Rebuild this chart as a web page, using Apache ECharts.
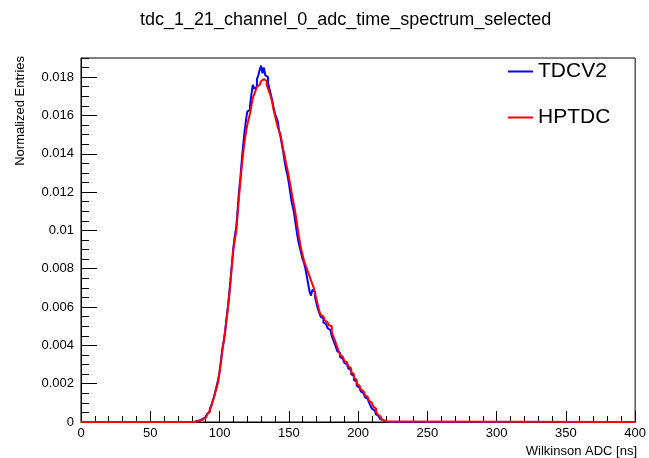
<!DOCTYPE html>
<html>
<head>
<meta charset="utf-8">
<script src="https://cdn.jsdelivr.net/npm/echarts@6/dist/echarts.min.js"></script>
<style>
  html, body { margin: 0; padding: 0; background: #fff; }
  #chart { width: 649px; height: 458px; }
</style>
</head>
<body>
<div id="chart"></div>
<script>
// bin lower edges [ns], 1 ns bins over the non-empty range
const binEdges = [
  80, 81, 82, 83, 84, 85, 86, 87, 88, 89, 90, 91, 92, 93, 94, 95, 96, 97, 98, 99,
  100, 101, 102, 103, 104, 105, 106, 107, 108, 109, 110, 111, 112, 113, 114, 115, 116, 117, 118, 119,
  120, 121, 122, 123, 124, 125, 126, 127, 128, 129, 130, 131, 132, 133, 134, 135, 136, 137, 138, 139,
  140, 141, 142, 143, 144, 145, 146, 147, 148, 149, 150, 151, 152, 153, 154, 155, 156, 157, 158, 159,
  160, 161, 162, 163, 164, 165, 166, 167, 168, 169, 170, 171, 172, 173, 174, 175, 176, 177, 178, 179,
  180, 181, 182, 183, 184, 185, 186, 187, 188, 189, 190, 191, 192, 193, 194, 195, 196, 197, 198, 199,
  200, 201, 202, 203, 204, 205, 206, 207, 208, 209, 210, 211, 212, 213, 214, 215, 216, 217, 218, 219,
  220, 221, 222];

const tdcv2 = [
  0, 0.00001, 0.00003, 0.00005, 0.00007, 0.0001, 0.00013, 0.00016, 0.0002, 0.00026,
  0.00033, 0.00042, 0.00052, 0.00068, 0.00085, 0.00108, 0.0013, 0.0016, 0.0019, 0.0022,
  0.0026, 0.0032, 0.0038, 0.0042, 0.0047, 0.0054, 0.006, 0.0067, 0.0075, 0.0083,
  0.0091, 0.0097, 0.0101, 0.011, 0.012, 0.0127, 0.0136, 0.0144, 0.0151, 0.0157,
  0.0162, 0.0163, 0.0165, 0.0171, 0.0176, 0.0174, 0.0175, 0.0179, 0.0181, 0.0184,
  0.0186, 0.0182, 0.0185, 0.0181, 0.018, 0.0177, 0.0174, 0.0171, 0.0168, 0.0164,
  0.0161, 0.0159, 0.0157, 0.0152, 0.0149, 0.0145, 0.0141, 0.0136, 0.0132, 0.0129,
  0.0125, 0.012, 0.0115, 0.0112, 0.0108, 0.0103, 0.0098, 0.0094, 0.0091, 0.0088,
  0.0085, 0.0083, 0.008, 0.0076, 0.0072, 0.0068, 0.0066, 0.0069, 0.0068, 0.0065,
  0.0062, 0.0059, 0.0057, 0.0055, 0.0054, 0.0052, 0.0051, 0.005, 0.0049, 0.0048,
  0.0047, 0.0045, 0.0043, 0.0041, 0.0039, 0.0037, 0.0036, 0.0034, 0.0033, 0.0032,
  0.0031, 0.003, 0.0029, 0.0028, 0.0027, 0.0025, 0.0024, 0.0022, 0.0021, 0.0019,
  0.0018, 0.0017, 0.0016, 0.0015, 0.0014, 0.0013, 0.0012, 0.0011, 0.001, 0.00085,
  0.0007, 0.0006, 0.0005, 0.0004, 0.0003, 0.0002, 0.00015, 0.0001, 0.00005, 0.00002,
  0, 0, 0];

const hptdc = [
  0, 0, 0.00002, 0.00003, 0.00005, 0.00007, 0.0001, 0.00013, 0.00017, 0.00022,
  0.00028, 0.00037, 0.00048, 0.00062, 0.0008, 0.00104, 0.0013, 0.00155, 0.0018, 0.0021,
  0.0026, 0.0031, 0.0037, 0.0042, 0.0047, 0.0053, 0.0059, 0.0066, 0.0074, 0.0082,
  0.009, 0.0095, 0.0099, 0.0108, 0.0117, 0.0125, 0.0133, 0.014, 0.0146, 0.0151,
  0.0155, 0.0158, 0.0161, 0.0165, 0.0169, 0.0171, 0.0173, 0.0175, 0.0176, 0.0177,
  0.0178, 0.0179, 0.0179, 0.0178, 0.0176, 0.0174, 0.0172, 0.017, 0.0167, 0.0163,
  0.016, 0.0157, 0.0154, 0.0152, 0.015, 0.0146, 0.0142, 0.0139, 0.0135, 0.0132,
  0.0128, 0.0124, 0.012, 0.0116, 0.0112, 0.0108, 0.0103, 0.0098, 0.0094, 0.009,
  0.0087, 0.0084, 0.0082, 0.008, 0.0078, 0.0076, 0.0074, 0.0072, 0.007, 0.0067,
  0.0064, 0.0061, 0.0058, 0.0056, 0.0055, 0.0054, 0.0053, 0.0052, 0.0051, 0.00505,
  0.005, 0.0047, 0.0045, 0.0043, 0.0041, 0.0039, 0.0037, 0.0035, 0.0034, 0.0033,
  0.0032, 0.0031, 0.003, 0.0029, 0.0028, 0.0026, 0.0025, 0.0023, 0.0022, 0.002,
  0.0019, 0.0018, 0.0017, 0.0016, 0.0015, 0.0014, 0.0013, 0.0012, 0.0011, 0.001,
  0.0009, 0.0008, 0.0007, 0.00055, 0.0004, 0.0003, 0.0002, 0.00013, 0.00008, 0.00004,
  0.00002, 0, 0];

const xMin = 0, xMax = 400;
const yMin = 0, yMax = 0.019;

const font = "'Liberation Sans', Arial, Helvetica, sans-serif";

function histPoints(values) {
  // empty range on both sides so the line runs across the whole axis
  const pts = [[xMin, 0]];
  binEdges.forEach((x, i) => pts.push([x, values[i]]));
  pts.push([xMax, 0]);
  return pts;
}

const chart = echarts.init(document.getElementById("chart"));

const option = {
  animation: false,
  title: {
    text: "tdc_1_21_channel_0_adc_time_spectrum_selected",
    left: 135,
    top: 6,
    textStyle: { fontFamily: font, fontSize: 18, fontWeight: "normal", color: "#000" }
  },
  legend: {
    orient: "vertical",
    left: 503,
    top: 56,
    itemWidth: 25,
    itemHeight: 2,
    itemGap: 25,
    icon: "rect",
    textStyle: { fontFamily: font, fontSize: 21, color: "#000" },
    data: ["TDCV2", "HPTDC"]
  },
  grid: {
    left: 81,
    right: 12,
    top: 58,
    bottom: 36,
    show: true,
    borderColor: "#000",
    borderWidth: 1,
    containLabel: false
  },
  xAxis: {
    type: "value",
    min: xMin,
    max: xMax,
    interval: 50,
    axisLine: { onZero: false, lineStyle: { color: "#000", width: 1 } },
    axisTick: { inside: true, length: 11, lineStyle: { color: "#000" } },
    minorTick: { show: true, splitNumber: 5, length: 6, lineStyle: { color: "#000" } },
    splitLine: { show: false },
    axisLabel: { margin: 5, color: "#000", fontFamily: font, fontSize: 13 }
  },
  yAxis: [
    {
      type: "value",
      min: yMin,
      max: yMax,
      interval: 0.002,
      axisLine: { show: true, lineStyle: { color: "#000", width: 1 } },
      axisTick: { inside: true, length: 16, lineStyle: { color: "#000" } },
      splitLine: { show: false },
      axisLabel: {
        margin: 7,
        color: "#000",
        fontFamily: font,
        fontSize: 13,
        showMaxLabel: false,
        formatter: v => String(parseFloat(v.toFixed(4)))
      }
    },
    {
      // minor ticks every 0.0005
      type: "value",
      position: "left",
      min: yMin,
      max: yMax,
      interval: 0.0005,
      axisLine: { show: false },
      axisTick: { inside: true, length: 8, lineStyle: { color: "#000" } },
      axisLabel: { show: false },
      splitLine: { show: false }
    }
  ],
  graphic: [
    {
      type: "text",
      x: 20,
      y: 56,
      rotation: Math.PI / 2,
      style: {
        text: "Normalized Entries",
        fill: "#000",
        font: "13px " + font,
        align: "right",
        verticalAlign: "middle"
      }
    },
    {
      type: "text",
      x: 637,
      y: 451,
      style: {
        text: "Wilkinson ADC [ns]",
        fill: "#000",
        font: "13px " + font,
        align: "right",
        verticalAlign: "middle"
      }
    }
  ],
  series: [
    {
      name: "TDCV2",
      type: "line",
      step: "end",
      showSymbol: false,
      color: "#0000ff",
      lineStyle: { width: 2, color: "#0000ff" },
      data: histPoints(tdcv2)
    },
    {
      name: "HPTDC",
      type: "line",
      step: "end",
      showSymbol: false,
      color: "#ff0000",
      lineStyle: { width: 2, color: "#ff0000" },
      data: histPoints(hptdc)
    }
  ]
};

chart.setOption(option);
</script>
</body>
</html>
